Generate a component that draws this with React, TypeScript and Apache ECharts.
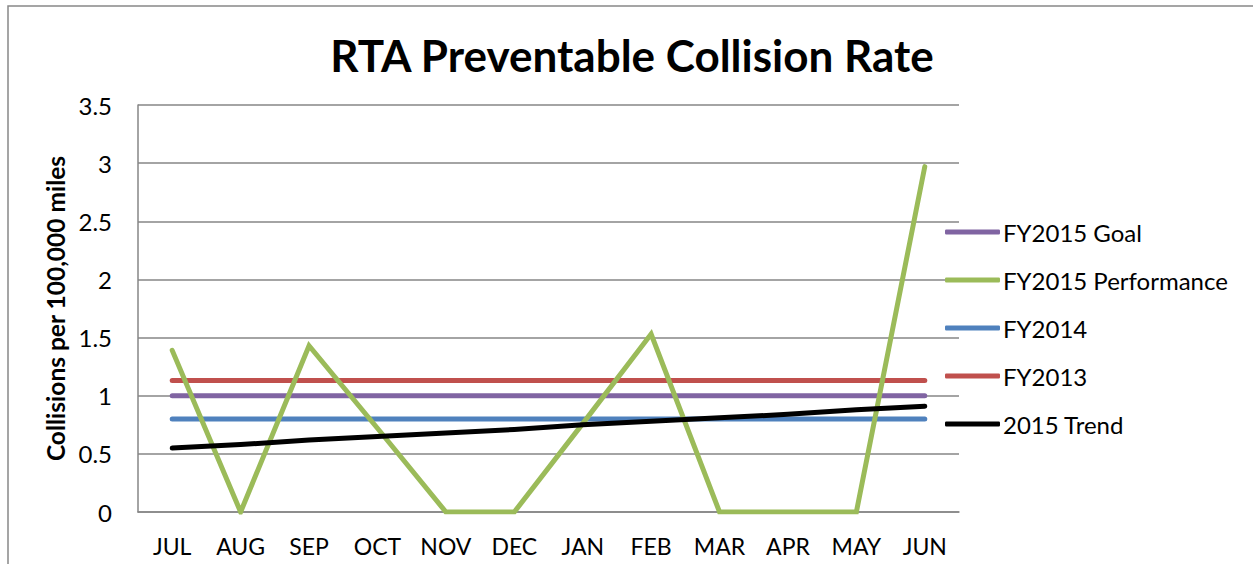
import React, { useEffect, useRef } from "react";
import * as echarts from "echarts";

const months = ["JUL", "AUG", "SEP", "OCT", "NOV", "DEC", "JAN", "FEB", "MAR", "APR", "MAY", "JUN"];
const goal2015 = [1, 1, 1, 1, 1, 1, 1, 1, 1, 1, 1, 1];
const performance2015 = [1.39, 0, 1.43, 0.72, 0, 0, 0.76, 1.53, 0, 0, 0, 2.97];
const fy2014 = [0.8, 0.8, 0.8, 0.8, 0.8, 0.8, 0.8, 0.8, 0.8, 0.8, 0.8, 0.8];
const fy2013 = [1.13, 1.13, 1.13, 1.13, 1.13, 1.13, 1.13, 1.13, 1.13, 1.13, 1.13, 1.13];
const trend2015 = [0.55, 0.58, 0.62, 0.65, 0.68, 0.71, 0.75, 0.78, 0.81, 0.84, 0.88, 0.91];

const FONT = "Lato, 'Open Sans', sans-serif";

export default function App() {
  const ref = useRef<HTMLDivElement>(null);
  useEffect(() => {
    if (!ref.current) return;
    const chart = echarts.init(ref.current, undefined, { renderer: "svg" });
    const mk = (name: string, data: number[], color: string, z: number) => ({
      name,
      type: "line",
      data,
      symbol: "none",
      z,
      lineStyle: { color, width: 5, cap: "round", join: "miter" },
      itemStyle: { color },
    });
    chart.setOption({
      animation: false,
      backgroundColor: "#fff",
      textStyle: { fontFamily: FONT },
      title: {
        text: "RTA Preventable Collision Rate",
        left: 627,
        textAlign: "center",
        top: 28,
        textStyle: { fontFamily: FONT, fontSize: 44, fontWeight: "bold", color: "#000" },
      },
      graphic: [
        {
          type: "rect",
          shape: { x: 8, y: 6, width: 1300, height: 620 },
          style: { fill: "none", stroke: "#888", lineWidth: 1.5 },
          silent: true,
        },
      ],
      legend: {
        orient: "vertical",
        left: 940,
        top: 215,
        icon: "roundRect",
        itemWidth: 55,
        itemHeight: 5,
        itemGap: 24,
        textStyle: { fontFamily: FONT, fontSize: 24, color: "#000", padding: [0, 0, 0, -2] },
        data: ["FY2015 Goal", "FY2015 Performance", "FY2014", "FY2013", "2015 Trend"],
      },
      grid: { left: 138, right: 294, top: 105, bottom: 52 },
      xAxis: {
        type: "category",
        data: months,
        boundaryGap: true,
        axisLine: { lineStyle: { color: "#868686", width: 1.5 } },
        axisTick: { show: false },
        axisLabel: { fontFamily: FONT, fontSize: 23, color: "#000", margin: 22, interval: 0 },
      },
      yAxis: {
        type: "value",
        min: 0,
        max: 3.5,
        interval: 0.5,
        name: "Collisions per 100,000 miles",
        nameLocation: "middle",
        nameRotate: 90,
        nameGap: 70,
        nameTextStyle: { fontFamily: FONT, fontSize: 24.5, fontWeight: "bold", color: "#000" },
        axisLine: { show: true, lineStyle: { color: "#868686", width: 1.5 } },
        axisTick: { show: false },
        splitLine: { lineStyle: { color: "#868686", width: 1.5 } },
        axisLabel: { fontFamily: FONT, fontSize: 24, color: "#000", margin: 26 },
      },
      series: [
        mk("FY2015 Goal", goal2015, "#8064A2", 2),
        mk("FY2015 Performance", performance2015, "#9BBB59", 5),
        mk("FY2014", fy2014, "#4F81BD", 2),
        mk("FY2013", fy2013, "#C0504D", 2),
        mk("2015 Trend", trend2015, "#000000", 6),
      ],
    });
    return () => chart.dispose();
  }, []);
  return (
    <div
      ref={ref}
      style={{ position: "absolute", left: 0, top: 0, width: 1253, height: 564 }}
    />
  );
}
